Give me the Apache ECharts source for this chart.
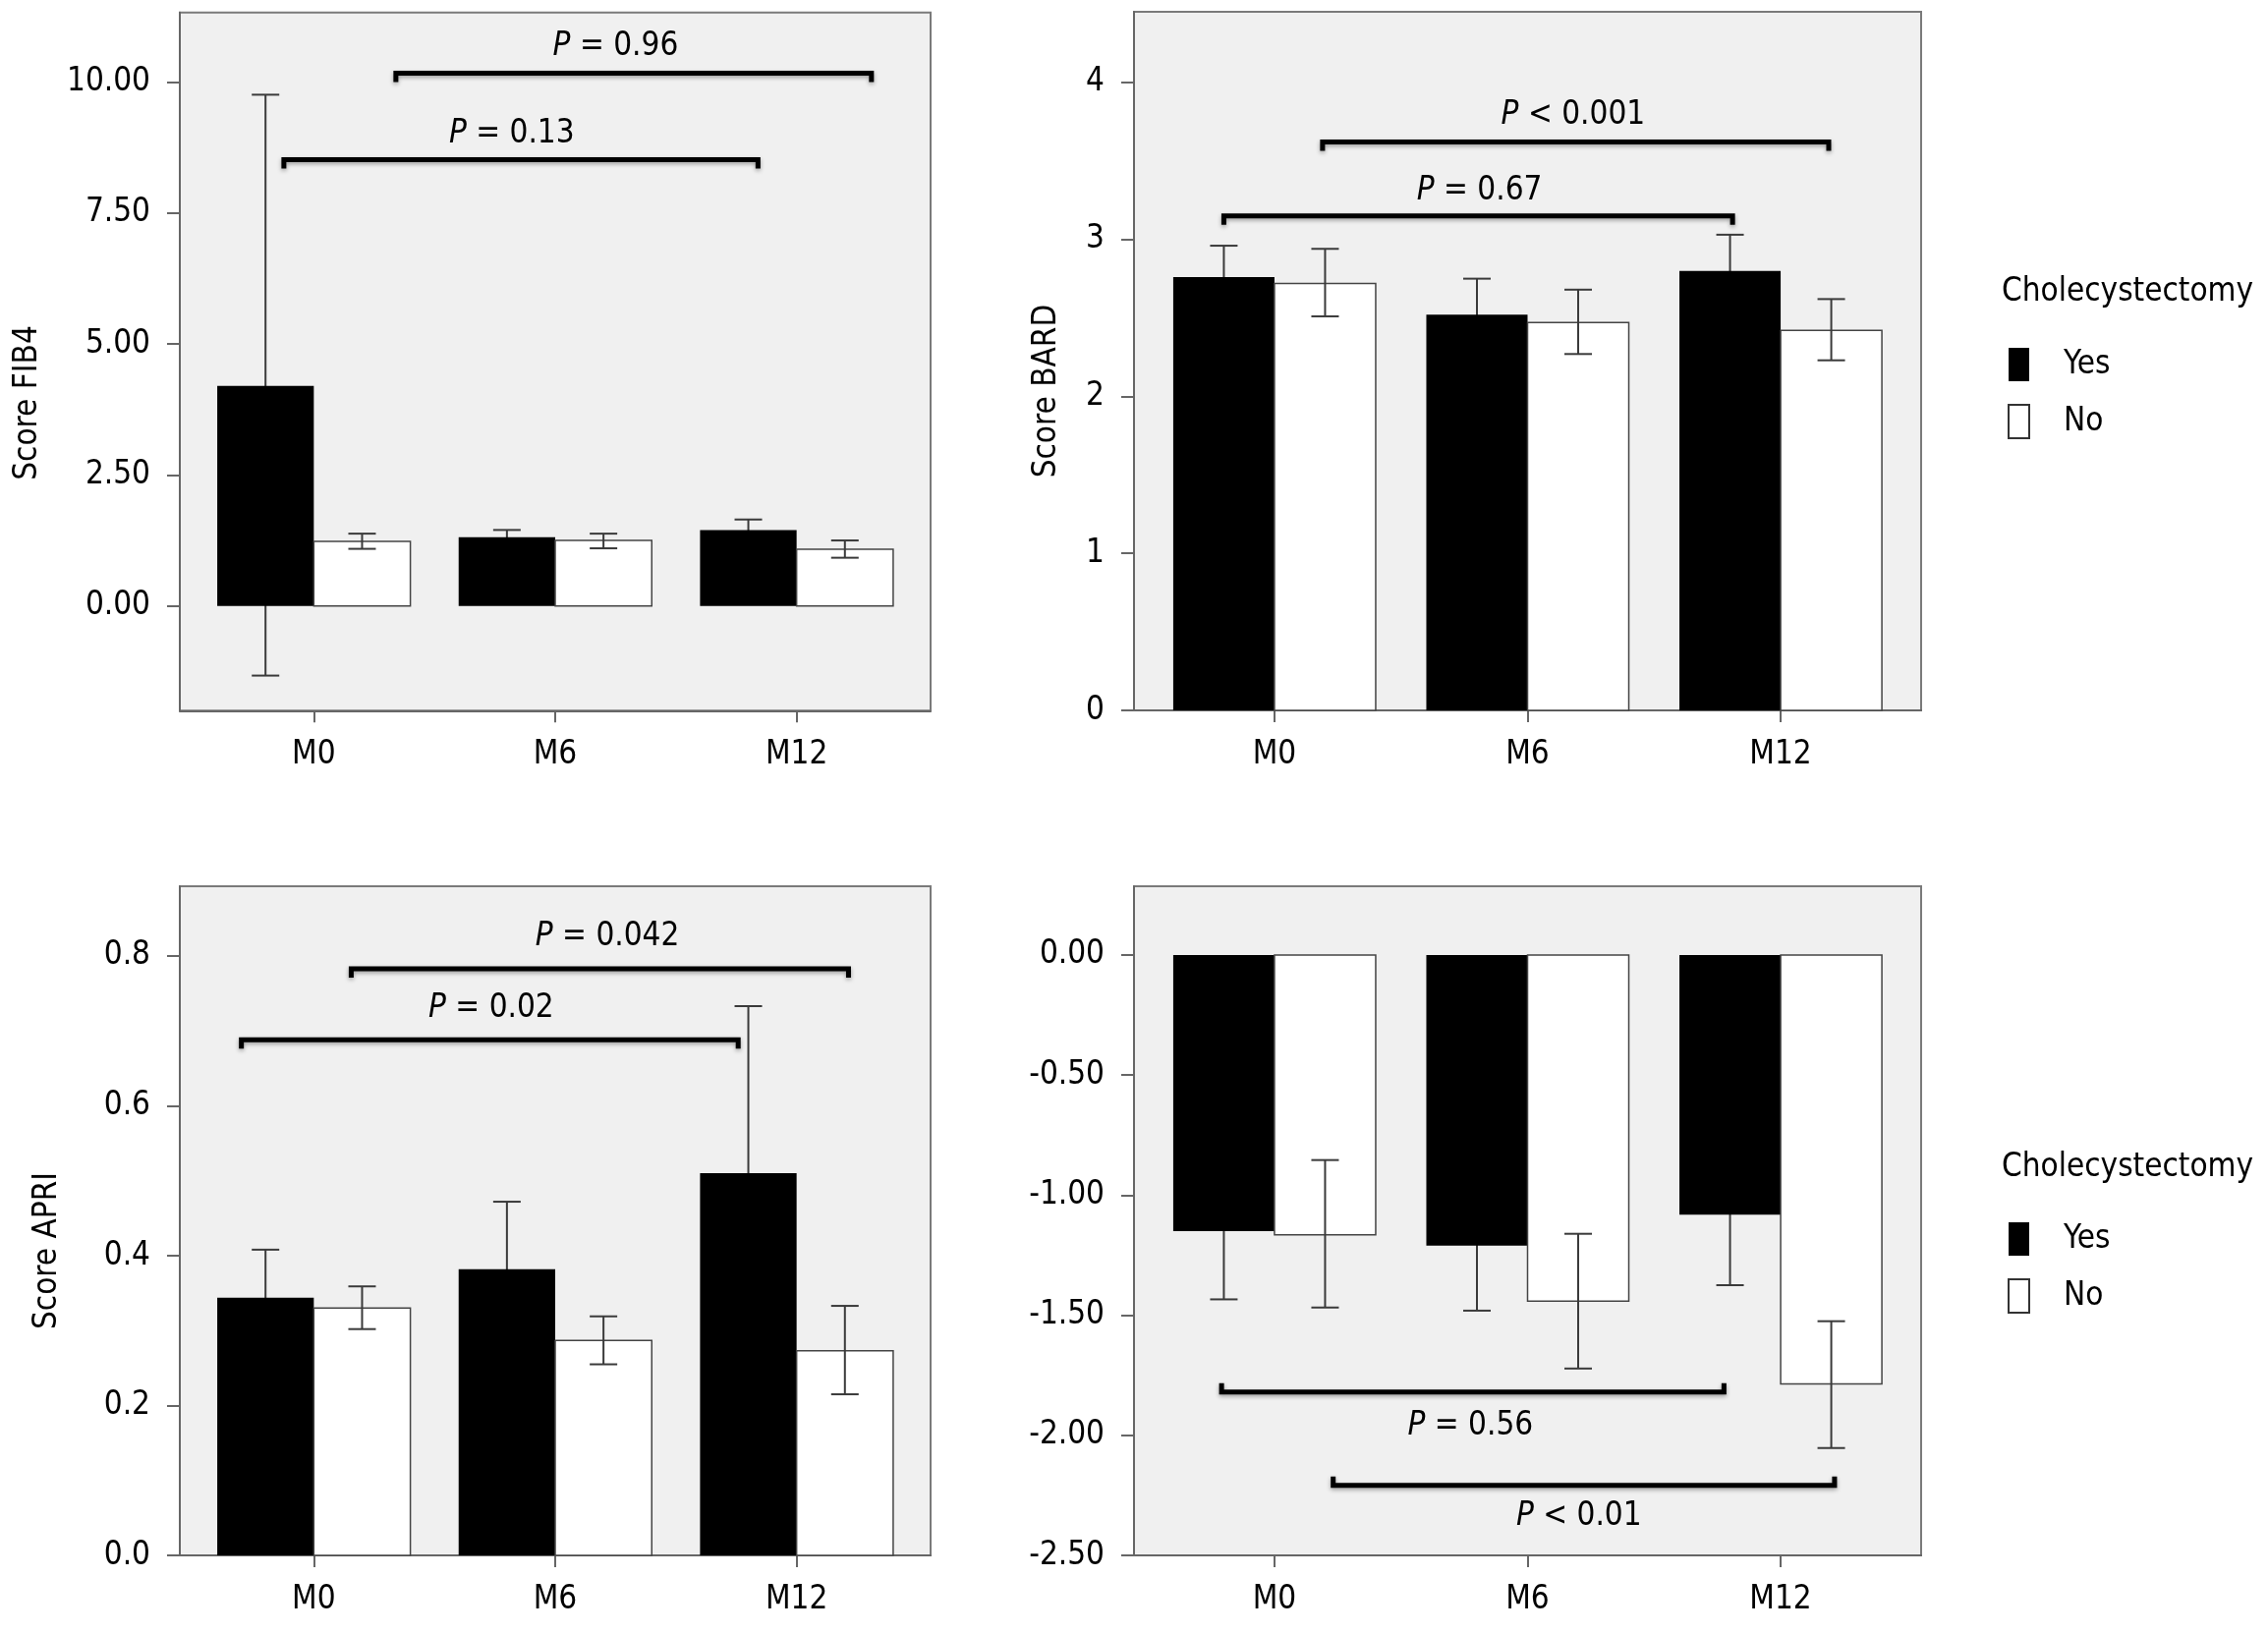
<!DOCTYPE html>
<html>
<head>
<meta charset="utf-8">
<title>Scores by cholecystectomy</title>
<script src="https://cdn.jsdelivr.net/npm/echarts@6/dist/echarts.min.js"></script>
<style>
  html, body { margin: 0; padding: 0; background: #fff; }
  #main { width: 2308px; height: 1662px; }
</style>
</head>
<body>
<div id="main"></div>
<script>
var cats = ['M0', 'M6', 'M12'];

// FIB4 (top left)
var fibYes = [4.20, 1.31, 1.45];
var fibYesLo = [-1.33, 1.17, 1.25];
var fibYesHi = [9.76, 1.45, 1.65];
var fibNo = [1.23, 1.25, 1.08];
var fibNoLo = [1.09, 1.10, 0.92];
var fibNoHi = [1.38, 1.38, 1.25];
var fibTicks = [0, 2.5, 5, 7.5, 10];
// [from, to, level, text, text x, text y]
var fibBrackets = [
  [0.34, 2.31, 10.17, 'P = 0.96', 1.25, 10.68],
  [-0.124, 1.84, 8.52, 'P = 0.13', 0.82, 9.01]
];

// BARD (top right)
var bardYes = [2.76, 2.52, 2.80];
var bardYesLo = [2.56, 2.29, 2.57];
var bardYesHi = [2.96, 2.75, 3.03];
var bardNo = [2.72, 2.47, 2.42];
var bardNoLo = [2.51, 2.27, 2.23];
var bardNoHi = [2.94, 2.68, 2.62];
var bardTicks = [0, 1, 2, 3, 4];
var bardBrackets = [
  [0.19, 2.19, 3.62, 'P < 0.001', 1.18, 3.79],
  [-0.20, 1.81, 3.15, 'P = 0.67', 0.81, 3.31]
];

// APRI (bottom left)
var apriYes = [0.344, 0.382, 0.510];
var apriYesLo = [0.28, 0.29, 0.29];
var apriYesHi = [0.408, 0.472, 0.733];
var apriNo = [0.330, 0.287, 0.273];
var apriNoLo = [0.302, 0.255, 0.215];
var apriNoHi = [0.359, 0.319, 0.333];
var apriTicks = [0, 0.2, 0.4, 0.6, 0.8];
var apriBrackets = [
  [0.155, 2.215, 0.783, 'P = 0.042', 1.216, 0.825],
  [-0.30, 1.758, 0.688, 'P = 0.02', 0.735, 0.730]
];

// change (bottom right)
var chgYes = [-1.150, -1.210, -1.081];
var chgYesLo = [-1.434, -1.481, -1.375];
var chgYesHi = [-0.87, -0.94, -0.79];
var chgNo = [-1.165, -1.441, -1.786];
var chgNoLo = [-1.468, -1.722, -2.053];
var chgNoHi = [-0.854, -1.161, -1.525];
var chgTicks = [-2.5, -2, -1.5, -1, -0.5, 0];
var chgBrackets = [
  [-0.209, 1.776, -1.82, 'P = 0.56', 0.774, -1.96],
  [0.232, 2.213, -2.209, 'P < 0.01', 1.203, -2.34]
];

var FONT = "'DejaVu Sans Condensed', 'DejaVu Sans', sans-serif";
var FS = 33;
var BAR_W = 0.40;
var CAP = 14;

var myChart = echarts.init(document.getElementById('main'));

function barSeries(name, grid, vals, lo, hi, isYes) {
  return {
    name: name,
    type: 'custom',
    xAxisIndex: grid,
    yAxisIndex: grid,
    itemStyle: isYes ? { color: '#000' } : { color: '#fff', borderColor: '#444', borderWidth: 1.5 },
    data: vals.map(function (v, i) { return [i, v, lo[i], hi[i]]; }),
    encode: { x: 0, y: [1, 2, 3] },
    renderItem: function (params, api) {
      var c = api.value(0);
      var x0 = isYes ? c - BAR_W : c;
      var a = api.coord([x0, 0]);
      var b = api.coord([x0 + BAR_W, api.value(1)]);
      var mid = api.coord([x0 + BAR_W / 2, api.value(3)]);
      var low = api.coord([x0 + BAR_W / 2, api.value(2)]);
      var rect = {
        type: 'rect',
        shape: { x: a[0], y: Math.min(a[1], b[1]), width: b[0] - a[0], height: Math.abs(b[1] - a[1]) },
        style: isYes ? { fill: '#000' } : { fill: '#fff', stroke: '#444', lineWidth: 1.5 }
      };
      var es = { stroke: '#3a3a3a', lineWidth: 2 };
      var err = [
        { type: 'line', shape: { x1: mid[0], y1: mid[1], x2: low[0], y2: low[1] }, style: es },
        { type: 'line', shape: { x1: mid[0] - CAP, y1: mid[1], x2: mid[0] + CAP, y2: mid[1] }, style: es },
        { type: 'line', shape: { x1: low[0] - CAP, y1: low[1], x2: low[0] + CAP, y2: low[1] }, style: es }
      ];
      // black bars hide the inner whisker, white bars show it
      return { type: 'group', children: isYes ? err.concat([rect]) : [rect].concat(err) };
    },
    z: 3
  };
}

function bracketSeries(grid, list, hookDir) {
  return {
    type: 'custom',
    xAxisIndex: grid,
    yAxisIndex: grid,
    silent: true,
    data: list.map(function (b) { return [b[0], b[2]]; }),
    encode: { x: 0, y: 1 },
    renderItem: function (params, api) {
      var b = list[params.dataIndex];
      var p0 = api.coord([b[0], b[2]]);
      var p1 = api.coord([b[1], b[2]]);
      var t = api.coord([b[4], b[5]]);
      var h = 9 * hookDir;
      return {
        type: 'group',
        children: [{
          type: 'polyline',
          shape: { points: [[p0[0], p0[1] + h], [p0[0], p0[1]], [p1[0], p1[1]], [p1[0], p1[1] + h]] },
          style: {
            stroke: '#000', fill: null, lineWidth: 5, lineJoin: 'miter',
            shadowBlur: 4, shadowColor: 'rgba(0,0,0,0.35)', shadowOffsetY: 2
          }
        }, {
          type: 'text',
          x: t[0], y: t[1],
          style: {
            text: b[3].replace(/^P/, '{i|P}'),
            fontSize: FS, fontFamily: FONT, fill: '#000',
            align: 'center', verticalAlign: 'middle',
            rich: { i: { fontStyle: 'italic', fontSize: FS, fontFamily: FONT, fill: '#000' } }
          }
        }]
      };
    },
    z: 5
  };
}

var gridBox = { show: true, backgroundColor: '#f0f0f0', borderColor: '#7a7a7a', borderWidth: 2 };
var grids = [
  Object.assign({ left: 183, top: 12.7, width: 764, height: 710.6 }, gridBox),
  Object.assign({ left: 1154, top: 12, width: 801, height: 711 }, gridBox),
  Object.assign({ left: 183, top: 902, width: 764, height: 681 }, gridBox),
  Object.assign({ left: 1154, top: 902, width: 801, height: 681 }, gridBox)
];

var axisLine = { show: true, onZero: false, lineStyle: { color: '#666', width: 2 } };
var labelStyle = { fontSize: FS, fontFamily: FONT, color: '#000' };

function xAxis(grid) {
  return {
    type: 'value', gridIndex: grid, min: -0.555, max: 2.555,
    axisLine: axisLine,
    axisTick: { show: true, length: 12, customValues: [0, 1, 2], lineStyle: { color: '#666', width: 2 } },
    axisLabel: Object.assign({ customValues: [0, 1, 2], margin: 29, formatter: function (v) { return cats[Math.round(v)]; } }, labelStyle),
    splitLine: { show: false }
  };
}

function yAxis(grid, min, max, ticks, digits) {
  return {
    type: 'value', gridIndex: grid, min: min, max: max,
    axisLine: axisLine,
    axisTick: { show: true, length: 13, customValues: ticks, lineStyle: { color: '#666', width: 2 } },
    axisLabel: Object.assign({ customValues: ticks, margin: 30, formatter: function (v) { return v.toFixed(digits); } }, labelStyle),
    splitLine: { show: false }
  };
}

function legendAt(top) {
  return {
    orient: 'vertical', left: 2043, top: top, padding: 0,
    itemWidth: 21, itemHeight: 34, itemGap: 23,
    icon: 'rect',
    data: [
      { name: 'Yes', itemStyle: { color: '#000' } },
      { name: 'No', itemStyle: { color: '#fff', borderColor: '#333', borderWidth: 2 } }
    ],
    textStyle: { fontSize: FS, fontFamily: FONT, color: '#000', padding: [0, 0, 0, 30] },
    selectedMode: false
  };
}

function yName(text, x, y) {
  return {
    type: 'text', x: x, y: y, rotation: Math.PI / 2,
    style: { text: text, fontSize: FS, fontFamily: FONT, fill: '#000', align: 'center', verticalAlign: 'middle' }
  };
}

var option = {
  animation: false,
  backgroundColor: '#fff',
  textStyle: { fontFamily: FONT },
  title: [
    { text: 'Cholecystectomy', left: 2037, top: 281, padding: 0, textStyle: { fontSize: FS, fontWeight: 'normal', fontFamily: FONT, color: '#000' } },
    { text: 'Cholecystectomy', left: 2037, top: 1172, padding: 0, textStyle: { fontSize: FS, fontWeight: 'normal', fontFamily: FONT, color: '#000' } }
  ],
  legend: [legendAt(354), legendAt(1244)],
  grid: grids,
  xAxis: [xAxis(0), xAxis(1), xAxis(2), xAxis(3)],
  yAxis: [
    yAxis(0, -2, 11.33, fibTicks, 2),
    yAxis(1, 0, 4.45, bardTicks, 0),
    yAxis(2, 0, 0.893, apriTicks, 1),
    yAxis(3, -2.5, 0.286, chgTicks, 2)
  ],
  graphic: [
    yName('Score FIB4', 28, 410),
    yName('Score BARD', 1065, 398),
    yName('Score APRI', 48, 1273)
  ],
  series: [
    barSeries('Yes', 0, fibYes, fibYesLo, fibYesHi, true),
    barSeries('No', 0, fibNo, fibNoLo, fibNoHi, false),
    bracketSeries(0, fibBrackets, 1),
    barSeries('Yes', 1, bardYes, bardYesLo, bardYesHi, true),
    barSeries('No', 1, bardNo, bardNoLo, bardNoHi, false),
    bracketSeries(1, bardBrackets, 1),
    barSeries('Yes', 2, apriYes, apriYesLo, apriYesHi, true),
    barSeries('No', 2, apriNo, apriNoLo, apriNoHi, false),
    bracketSeries(2, apriBrackets, 1),
    barSeries('Yes', 3, chgYes, chgYesLo, chgYesHi, true),
    barSeries('No', 3, chgNo, chgNoLo, chgNoHi, false),
    bracketSeries(3, chgBrackets, -1)
  ]
};

myChart.setOption(option);
</script>
</body>
</html>
